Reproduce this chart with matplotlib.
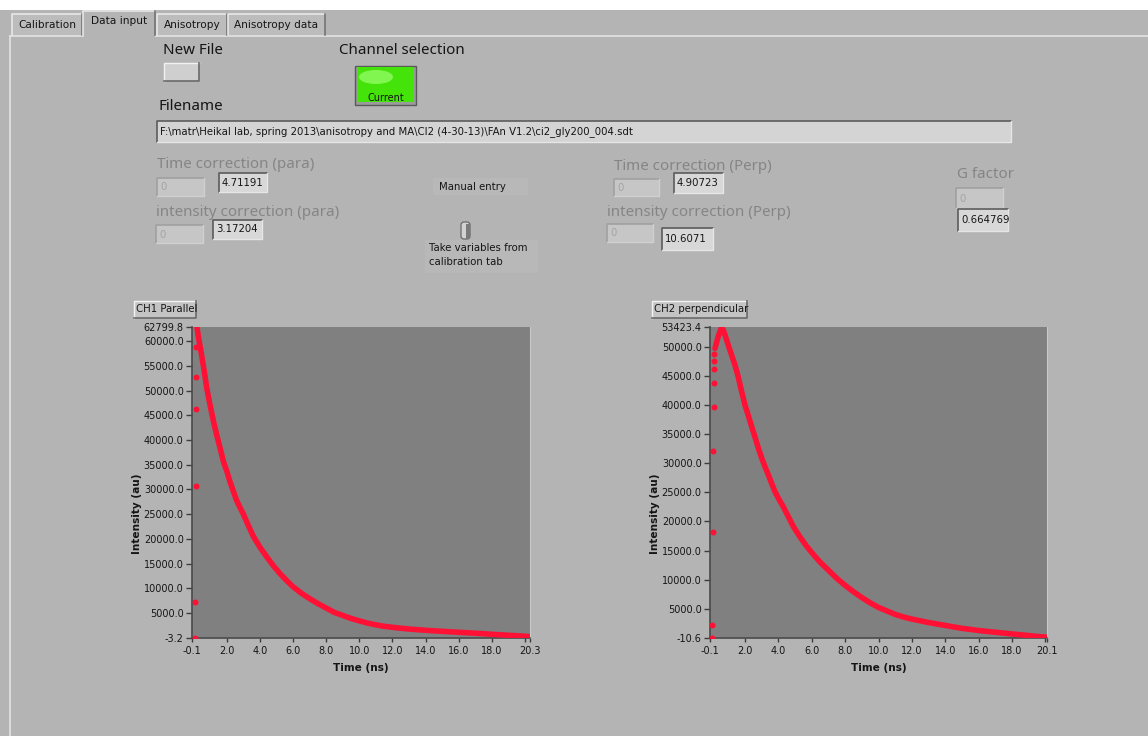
import matplotlib

matplotlib.use("Agg")
import matplotlib.pyplot as plt
from matplotlib.patches import Rectangle, Ellipse, FancyBboxPatch

# ---- data ----
ch1_time = [0.2, 0.3, 0.4, 0.5, 0.6, 0.7, 0.8, 0.9, 1.0, 1.2, 1.4, 1.6, 1.8, 2.0,
            2.2, 2.4, 2.6, 2.8, 3.0, 3.3, 3.6, 4.0, 4.4, 4.8, 5.2, 5.6, 6.0, 6.5,
            7.0, 7.5, 8.0, 8.5, 9.0, 9.5, 10.0, 10.5, 11.0, 11.5, 12.0, 12.5,
            13.0, 13.5, 14.0, 14.5, 15.0, 15.5, 16.0, 16.5, 17.0, 17.5, 18.0,
            18.5, 19.0, 19.5, 20.0, 20.3]
ch1_counts = [62799.8, 60600, 58700, 56800, 54700, 52500, 50300, 48600, 46900,
              43700, 40900, 38300, 35600, 33700, 31500, 29600, 27700, 26300,
              25000, 22700, 20500, 18300, 16400, 14600, 13000, 11600, 10300,
              9000, 7900, 6900, 6000, 5100, 4500, 3900, 3400, 2950, 2600, 2300,
              2100, 1920, 1750, 1620, 1500, 1390, 1290, 1190, 1090, 1000, 900,
              800, 690, 590, 490, 390, 290, 220]
ch1_edge_time = [0.1, 0.1, 0.12, 0.12, 0.12, 0.14]
ch1_edge_counts = [-3.2, 7200, 30700, 46200, 52800, 58900]

ch2_time = [0.2, 0.3, 0.4, 0.5, 0.6, 0.7, 0.8, 1.0, 1.2, 1.4, 1.6, 1.8, 2.0, 2.2,
            2.4, 2.6, 2.8, 3.0, 3.2, 3.4, 3.6, 3.8, 4.0, 4.3, 4.6, 4.9, 5.3, 5.7,
            6.1, 6.5, 7.0, 7.5, 8.0, 8.5, 9.0, 9.5, 10.0, 10.5, 11.0, 11.5, 12.0,
            12.5, 13.0, 13.5, 14.0, 14.5, 15.0, 15.5, 16.0, 16.5, 17.0, 17.5,
            18.0, 18.5, 19.0, 19.5, 20.1]
ch2_counts = [49800, 50900, 51900, 52700, 53423.4, 52900, 52100, 50300, 48600,
              46900, 44800, 42300, 40000, 38200, 36300, 34500, 32600, 30900,
              29400, 28000, 26500, 25100, 24000, 22500, 20800, 19100, 17300,
              15700, 14300, 13000, 11600, 10200, 9000, 7900, 6900, 6000, 5200,
              4600, 4000, 3550, 3200, 2900, 2600, 2350, 2100, 1850, 1600, 1420,
              1230, 1080, 930, 780, 640, 500, 360, 220, 60]
ch2_edge_time = [0.04, 0.04, 0.06, 0.08, 0.12, 0.12, 0.12, 0.12, 0.15]
ch2_edge_counts = [-10.6, 2190, 18240, 32150, 39760, 43780, 46200, 47670, 48770]

ch1_xlim = (-0.1, 20.3)
ch1_ylim = (-3.2, 62799.8)
ch2_xlim = (-0.1, 20.1)
ch2_ylim = (-10.6, 53423.4)

ch1_xticks = [-0.1, 2.0, 4.0, 6.0, 8.0, 10.0, 12.0, 14.0, 16.0, 18.0, 20.0, 20.3]
ch1_xticklabels = ["-0.1", "2.0", "4.0", "6.0", "8.0", "10.0", "12.0", "14.0",
                   "16.0", "18.0", "", "20.3"]
ch1_yticks = [-3.2, 5000, 10000, 15000, 20000, 25000, 30000, 35000, 40000,
              45000, 50000, 55000, 60000, 62799.8]
ch2_xticks = [-0.1, 2.0, 4.0, 6.0, 8.0, 10.0, 12.0, 14.0, 16.0, 18.0, 20.0, 20.1]
ch2_xticklabels = ["-0.1", "2.0", "4.0", "6.0", "8.0", "10.0", "12.0", "14.0",
                   "16.0", "18.0", "", "20.1"]
ch2_yticks = [-10.6, 5000, 10000, 15000, 20000, 25000, 30000, 35000, 40000,
              45000, 50000, 53423.4]

tab_names = ["Calibration", "Data input", "Anisotropy", "Anisotropy data"]
file_name = r"F:\matr\Heikal lab, spring 2013\anisotropy and MA\CI2 (4-30-13)\FAn V1.2\ci2_gly200_004.sdt"
time_corr_para = "4.71191"
int_corr_para = "3.17204"
time_corr_perp = "4.90723"
int_corr_perp = "10.6071"
g_factor = "0.664769"

# ---- colours / sizes ----
W, H = 1148, 736
PANEL = "#b4b4b4"
PLOT_BG = "#808080"
RED = "#ff1035"
DIM = "#858585"
INK = "#151515"
BIG = "Noto Sans"
BIG_SIZE = 10.9
SMALL = 7.3

plt.rcParams["font.family"] = ["DejaVu Sans"]
fig = plt.figure(figsize=(W / 100, H / 100), dpi=100, facecolor="white")
ui = fig.add_axes([0, 0, 1, 1])
ui.set_xlim(0, W)
ui.set_ylim(H, 0)
ui.axis("off")


def rect(x0, y0, x1, y1, fc, ec="none", lw=0, z=1):
    r = Rectangle((x0, y0), x1 - x0, y1 - y0, facecolor=fc, edgecolor=ec,
                  linewidth=lw, zorder=z)
    ui.add_patch(r)
    return r


def sunken(x0, y0, x1, y1, fc, dark="#5c5c5c", light="#e6e6e6"):
    r = rect(x0, y0, x1, y1, fc)
    ui.plot([x0, x0, x1], [y1, y0, y0], color=dark, lw=1.2, zorder=2)
    ui.plot([x0, x1, x1], [y1, y1, y0], color=light, lw=1, zorder=2)
    return r


def raised(x0, y0, x1, y1, fc, dark="#6a6a6a", light="#f2f2f2"):
    r = rect(x0, y0, x1, y1, fc)
    ui.plot([x0, x0, x1], [y1, y0, y0], color=light, lw=1, zorder=2)
    ui.plot([x0, x1, x1], [y1, y1, y0], color=dark, lw=1.2, zorder=2)
    return r


def label(x, y, s, dim=False):
    ui.text(x, y, s, fontsize=BIG_SIZE, family=BIG, color=DIM if dim else INK,
            va="center", zorder=4)


def small(x, y, s, color=INK):
    return ui.text(x, y, s, fontsize=SMALL, color=color, va="center", zorder=4)


def num_pair(zero_box, val_box, value):
    sunken(*zero_box, "#c6c6c6", dark="#a0a0a0", light="#d0d0d0")
    small(zero_box[0] + 3, (zero_box[1] + zero_box[3]) / 2 + 0.5, "0", "#a4a4a4")
    sunken(*val_box, "#d8d8d8")
    small(val_box[0] + 3, (val_box[1] + val_box[3]) / 2, value)


# panel and tabs
rect(0, 10, W, H, PANEL, z=0)
ui.plot([10, 10], [36, H], color="#e4e4e4", lw=1.2, zorder=1)
ui.plot([10, W], [36, 36], color="#e4e4e4", lw=1.2, zorder=1)
tab_x = [(12, 82), (83, 155), (157, 227), (228, 325)]
for (x0, x1), name in zip(tab_x, tab_names):
    sel = name == "Data input"
    y0 = 11 if sel else 14
    rect(x0, y0, x1, 36.5 if sel else 35, PANEL if sel else "#bcbcbc", z=2)
    ui.plot([x0, x0, x1], [36 if sel else 35, y0, y0], color="#ececec", lw=1.1, zorder=3)
    ui.plot([x1, x1], [y0, 35], color="#6e6e6e", lw=1.1, zorder=3)
    ui.text((x0 + x1) / 2, y0 + 10.5, name, ha="center", va="center",
            fontsize=7.6, color=INK, zorder=4)

# top controls
label(163, 51, "New File")
raised(164, 63, 199, 81, "#cfcfcf")
label(339, 51, "Channel selection")
rect(354.5, 65.5, 415.5, 104.5, "#9a9a9a", ec="#5a5a5a", lw=1, z=1)
rect(357, 67, 413, 102, "#44e40a", z=2)
ui.add_patch(Ellipse((376, 77), 34, 14, facecolor="#9cff70", edgecolor="none",
                     alpha=0.7, zorder=3))
ui.text(386, 98, "Current", ha="center", va="center", fontsize=7, color=INK, zorder=4)

label(158, 107, "Filename")
sunken(157, 121, 1011, 142, "#d4d4d4")
small(160, 131.5, file_name)

# corrections
label(157, 165, "Time correction (para)", dim=True)
num_pair((157, 178, 204, 196), (219, 173, 267, 192), time_corr_para)
label(156, 212, "intensity correction (para)", dim=True)
num_pair((156, 225, 203, 243), (213, 220, 262, 239), int_corr_para)

rect(433, 178, 528, 195, "#b8b8b8")
small(439, 187, "Manual entry")
ui.add_patch(FancyBboxPatch((461, 222), 9, 17, boxstyle="round,pad=0,rounding_size=3",
                            facecolor="#d2d2d2", edgecolor="#606060", lw=0.8, zorder=3))
rect(466, 224, 470, 239, "#7a7a7a", z=4)
rect(425, 240, 538, 273, "#b8b8b8")
small(429, 248, "Take variables from")
small(429, 262, "calibration tab")

label(614, 166, "Time correction (Perp)", dim=True)
num_pair((614, 179, 659, 196), (674, 173, 723, 193), time_corr_perp)
label(607, 212, "intensity correction (Perp)", dim=True)
num_pair((607, 224, 653, 242), (662, 228, 713, 250), int_corr_perp)

label(957, 175, "G factor", dim=True)
sunken(956, 188, 1003, 208, "#c6c6c6", dark="#a0a0a0", light="#d0d0d0")
small(959, 198.5, "0", "#a4a4a4")
sunken(958, 209, 1008, 231, "#d8d8d8")
gclip = Rectangle((958, 209), 46, 22, transform=ui.transData)
small(961, 220, g_factor).set_clip_path(gclip)

# plot captions
raised(134, 301, 196, 318, "#c4c4c4")
small(136.5, 309.5, "CH1 Parallel")
raised(652, 301, 747, 318, "#c4c4c4")
small(654.5, 309.5, "CH2 perpendicular")


def graph(box, t, counts, et, ec, xlim, ylim, xt, xtl, yt):
    x0, y0, x1, y1 = box
    ax = fig.add_axes([x0 / W, 1 - y1 / H, (x1 - x0) / W, (y1 - y0) / H])
    ax.set_facecolor(PLOT_BG)
    ax.plot(t, counts, color=RED, lw=4.0, solid_capstyle="round",
            solid_joinstyle="round", zorder=3)
    ax.plot(et, ec, "o", color=RED, ms=4.3, mec="none", zorder=3)
    ax.set_xlim(*xlim)
    ax.set_ylim(*ylim)
    ax.set_xticks(xt)
    ax.set_xticklabels(xtl)
    ax.set_yticks(yt)
    ax.set_yticklabels([f"{v:.1f}" for v in yt])
    ax.tick_params(direction="out", length=4, width=1, color="#3c3c3c",
                   labelsize=7.0, labelcolor=INK, pad=2)
    ax.tick_params(axis="x", length=3, pad=3)
    for side in ("left", "bottom"):
        ax.spines[side].set_color("#4a4a4a")
        ax.spines[side].set_linewidth(1.2)
    ax.spines["top"].set_visible(False)
    ax.spines["right"].set_color("#c8c8c8")
    ax.set_xlabel("Time (ns)", fontsize=7.6, fontweight="bold", color=INK)
    ax.set_ylabel("Intensity (au)", fontsize=7.6, fontweight="bold", color=INK)
    ax.xaxis.set_label_coords(0.5, -0.083)
    ax.yaxis.set_label_coords(-0.148, 0.40)
    return ax


graph((192, 327.3, 530, 637.7), ch1_time, ch1_counts, ch1_edge_time,
      ch1_edge_counts, ch1_xlim, ch1_ylim, ch1_xticks, ch1_xticklabels, ch1_yticks)
graph((710, 327.3, 1047, 637.7), ch2_time, ch2_counts, ch2_edge_time,
      ch2_edge_counts, ch2_xlim, ch2_ylim, ch2_xticks, ch2_xticklabels, ch2_yticks)

fig.savefig("out.png", dpi=100, facecolor=fig.get_facecolor())
